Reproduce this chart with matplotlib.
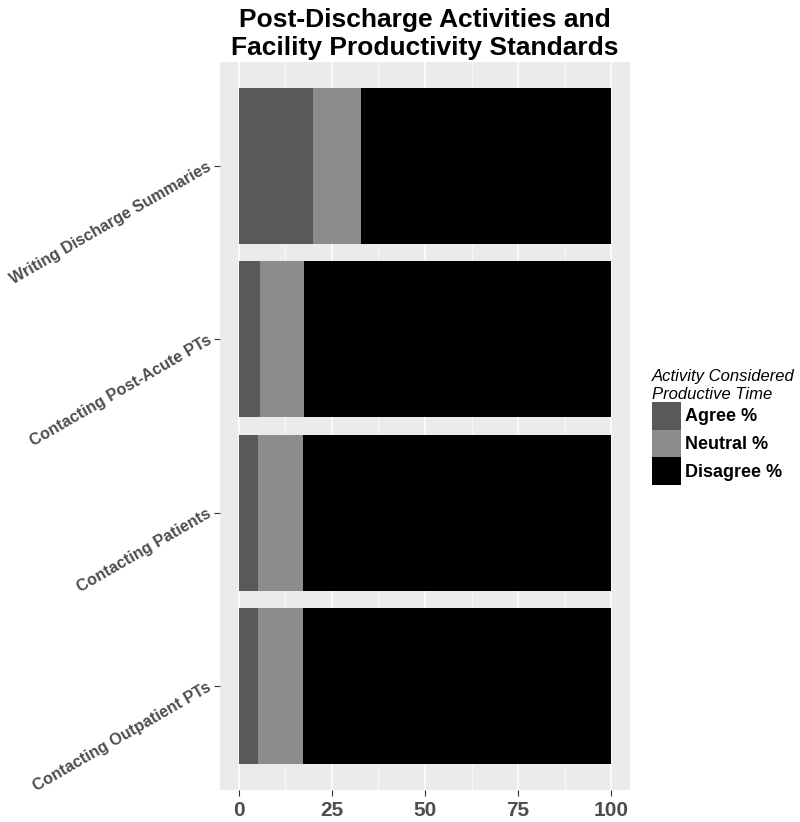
import matplotlib
matplotlib.use("Agg")
import matplotlib.pyplot as plt
import numpy as np

categories = ["Writing Discharge Summaries", "Contacting Post-Acute PTs",
              "Contacting Patients", "Contacting Outpatient PTs"]
agree = [20.0, 5.8, 5.3, 5.3]
neutral = [12.7, 11.8, 12.1, 12.1]
disagree = [67.3, 82.4, 82.6, 82.6]
series_names = ["Agree %", "Neutral %", "Disagree %"]
series_colors = ["#595959", "#8C8C8C", "#000000"]
xticks = [0, 25, 50, 75, 100]

plt.rcParams['font.family'] = ['Liberation Sans', 'DejaVu Sans']

fig = plt.figure(figsize=(8, 8.22), dpi=100)
ax = fig.add_axes([220/800, 1-790/822, 410/800, 728/822])
ax.set_facecolor("#EBEBEB")
for s in ax.spines.values():
    s.set_visible(False)

n = len(categories)
ypos = np.arange(n)[::-1] + 1  # top category at highest y
vals = [agree, neutral, disagree]
left = np.zeros(n)
handles = []
for v, name, c in zip(vals, series_names, series_colors):
    h = ax.barh(ypos, v, left=left, height=0.9, color=c, label=name, zorder=3)
    handles.append(h)
    left = left + np.array(v)

ax.set_xlim(-5, 105)
ax.set_ylim(0.4, n + 0.6)
ax.set_xticks(xticks)
ax.set_xticks([12.5, 37.5, 62.5, 87.5], minor=True)
ax.set_yticks(ypos)
ax.set_yticklabels(categories, rotation=30, ha='right', va='center',
                   rotation_mode='anchor', fontsize=11.6, fontweight='bold', color='#4D4D4D')
ax.set_xticklabels([str(t) for t in xticks], fontsize=15, fontweight='bold', color='#4D4D4D')
ax.grid(True, which='major', axis='x', color='white', linewidth=1.1, zorder=0)
ax.grid(True, which='minor', axis='x', color='white', linewidth=0.5, zorder=0)
ax.set_axisbelow(True)
ax.tick_params(axis='both', which='major', length=4, width=0.8, color='#333333', pad=3)
ax.tick_params(axis='x', which='major', pad=4)
ax.tick_params(axis='x', which='minor', length=0)

ax.set_title("Post-Discharge Activities and\nFacility Productivity Standards",
             fontsize=19, fontweight='bold', color='black', pad=5, linespacing=1.2)

leg = fig.legend(handles=handles, labels=series_names, loc='upper left',
                 bbox_to_anchor=(645/800, 1-362/822), frameon=False,
                 title="Activity Considered\nProductive Time",
                 title_fontproperties={'style': 'italic', 'size': 12},
                 prop={'weight': 'bold', 'size': 13},
                 handlelength=1.6, handleheight=2.0, labelspacing=0.0,
                 handletextpad=0.2, borderaxespad=0, alignment='left')

fig.savefig("out.png", dpi=100)
